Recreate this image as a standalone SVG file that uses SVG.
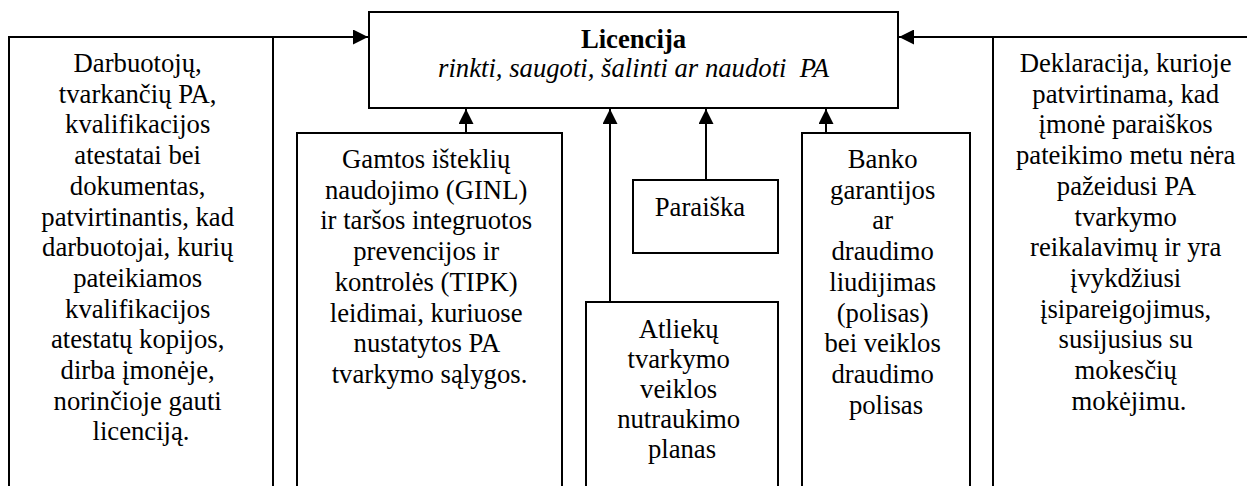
<svg xmlns="http://www.w3.org/2000/svg" width="1247" height="486" viewBox="0 0 1247 486">
<defs>
<marker id="ah" markerWidth="15" markerHeight="15" refX="15" refY="7.5" orient="auto" markerUnits="userSpaceOnUse">
<path d="M0,0 L15,7.5 L0,15 Z" fill="#000"/>
</marker>
<style>
.box{fill:#fff;stroke:#000;stroke-width:2}
.t{font-family:"Liberation Serif","Times New Roman",serif;font-size:26.7px;fill:#000;text-anchor:middle}
.b{font-weight:bold}
.i{font-style:italic}
.c{stroke:#000;stroke-width:2;fill:none}
</style>
</defs>
<rect width="1247" height="486" fill="#fff"/>
<g id="licencija">
<rect class="box" x="369" y="12" width="529" height="96"/>
<text class="t b" x="633.5" y="48">Licencija</text>
<text class="t i" x="633.5" y="77" xml:space="preserve">rinkti, saugoti, šalinti ar naudoti  PA</text>
</g>
<g id="darbuotoju">
<rect class="box" x="9" y="37" width="264" height="470"/>
<text class="t" x="141">
<tspan x="141" y="72">Darbuotojų,</tspan>
<tspan x="141" y="102.7">tvarkančių PA,</tspan>
<tspan x="141" y="133.4">kvalifikacijos</tspan>
<tspan x="141" y="164.1">atestatai bei</tspan>
<tspan x="141" y="194.8">dokumentas,</tspan>
<tspan x="141" y="225.5">patvirtinantis, kad</tspan>
<tspan x="141" y="256.2">darbuotojai, kurių</tspan>
<tspan x="141" y="286.9">pateikiamos</tspan>
<tspan x="141" y="317.6">kvalifikacijos</tspan>
<tspan x="141" y="348.3">atestatų kopijos,</tspan>
<tspan x="141" y="379">dirba įmonėje,</tspan>
<tspan x="141" y="409.7">norinčioje gauti</tspan>
<tspan x="141" y="440.4">licenciją.</tspan>
</text>
</g>
<g id="gamtos">
<rect class="box" x="297" y="133" width="265" height="380"/>
<text class="t">
<tspan x="429.5" y="168">Gamtos išteklių</tspan>
<tspan x="429.5" y="198.7">naudojimo (GINL)</tspan>
<tspan x="429.5" y="229.4">ir taršos integruotos</tspan>
<tspan x="429.5" y="260.1">prevencijos ir</tspan>
<tspan x="429.5" y="290.8">kontrolės (TIPK)</tspan>
<tspan x="429.5" y="321.5">leidimai, kuriuose</tspan>
<tspan x="429.5" y="352.2">nustatytos PA</tspan>
<tspan x="429.5" y="382.9">tvarkymo sąlygos.</tspan>
</text>
</g>
<g id="paraiska">
<rect class="box" x="633" y="180" width="145" height="73"/>
<text class="t" x="700" y="216">Paraiška</text>
</g>
<g id="atlieku">
<rect class="box" x="586" y="302" width="192" height="210"/>
<text class="t">
<tspan x="682" y="338">Atliekų</tspan>
<tspan x="682" y="368">tvarkymo</tspan>
<tspan x="682" y="398">veiklos</tspan>
<tspan x="682" y="428">nutraukimo</tspan>
<tspan x="682" y="458">planas</tspan>
</text>
</g>
<g id="banko">
<rect class="box" x="802" y="133" width="168" height="380"/>
<text class="t">
<tspan x="886" y="168">Banko</tspan>
<tspan x="886" y="198.7">garantijos</tspan>
<tspan x="886" y="229.4">ar</tspan>
<tspan x="886" y="260.1">draudimo</tspan>
<tspan x="886" y="290.8">liudijimas</tspan>
<tspan x="886" y="321.5">(polisas)</tspan>
<tspan x="886" y="352.2">bei veiklos</tspan>
<tspan x="886" y="382.9">draudimo</tspan>
<tspan x="886" y="413.6">polisas</tspan>
</text>
</g>
<g id="deklaracija">
<rect class="box" x="993" y="37" width="300" height="470"/>
<text class="t">
<tspan x="1129" y="72">Deklaracija, kurioje</tspan>
<tspan x="1129" y="102.7">patvirtinama, kad</tspan>
<tspan x="1129" y="133.4">įmonė paraiškos</tspan>
<tspan x="1129" y="164.1">pateikimo metu nėra</tspan>
<tspan x="1129" y="194.8">pažeidusi PA</tspan>
<tspan x="1129" y="225.5">tvarkymo</tspan>
<tspan x="1129" y="256.2">reikalavimų ir yra</tspan>
<tspan x="1129" y="286.9">įvykdžiusi</tspan>
<tspan x="1129" y="317.6">įsipareigojimus,</tspan>
<tspan x="1129" y="348.3">susijusius su</tspan>
<tspan x="1129" y="379">mokesčių</tspan>
<tspan x="1129" y="409.7">mokėjimu.</tspan>
</text>
</g>
<g id="connectors">
<line class="c" x1="273" y1="37" x2="368" y2="37" marker-end="url(#ah)"/>
<line class="c" x1="993" y1="37" x2="899" y2="37" marker-end="url(#ah)"/>
<line class="c" x1="466" y1="133" x2="466" y2="109" marker-end="url(#ah)"/>
<line class="c" x1="610" y1="302" x2="610" y2="109" marker-end="url(#ah)"/>
<line class="c" x1="706" y1="180" x2="706" y2="109" marker-end="url(#ah)"/>
<line class="c" x1="826" y1="133" x2="826" y2="109" marker-end="url(#ah)"/>
</g>
</svg>
